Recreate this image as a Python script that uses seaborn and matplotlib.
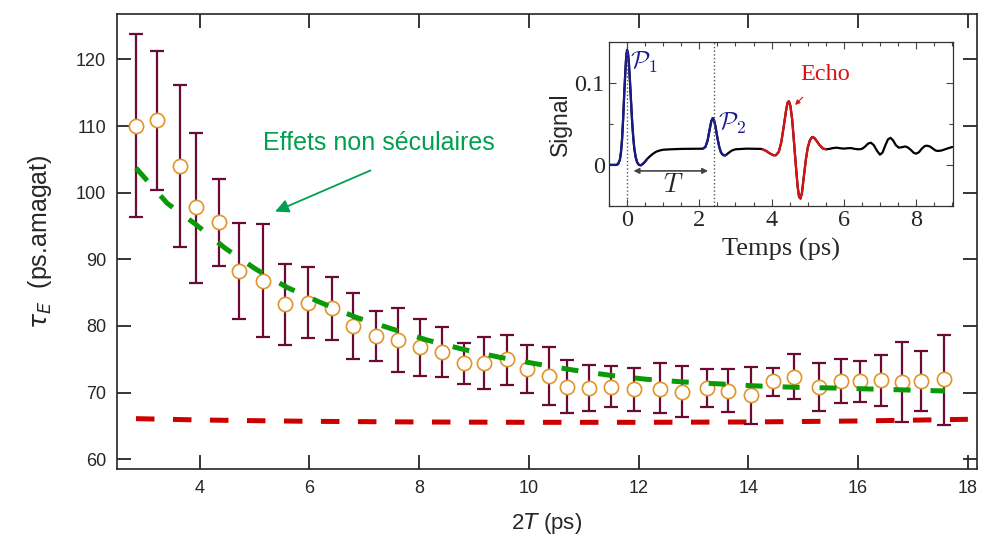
import numpy as np
import pandas as pd
import seaborn as sns
import matplotlib
matplotlib.use("Agg")
from matplotlib import pyplot as plt

# main data: echo decay time vs 2T
two_T = [2.84, 3.22, 3.64, 3.94, 4.36, 4.72, 5.16, 5.56, 5.97, 6.41,
         6.80, 7.21, 7.62, 8.02, 8.42, 8.82, 9.19, 9.60, 9.96, 10.37,
         10.69, 11.10, 11.50, 11.91, 12.38, 12.79, 13.25, 13.62, 14.04, 14.45,
         14.83, 15.28, 15.69, 16.04, 16.42, 16.80, 17.15, 17.57]
tau_E = [110.0, 110.9, 104.0, 97.8, 95.6, 88.2, 86.8, 83.3, 83.5, 82.7,
         80.0, 78.5, 77.9, 76.8, 76.1, 74.4, 74.4, 75.0, 73.6, 72.5,
         70.9, 70.7, 70.9, 70.5, 70.6, 70.1, 70.7, 70.3, 69.6, 71.7,
         72.4, 70.9, 71.8, 71.7, 71.9, 71.6, 71.7, 72.0]
tau_hi = [123.8, 121.3, 116.1, 109.0, 102.1, 95.5, 95.3, 89.3, 88.8, 87.3,
          84.9, 82.3, 82.7, 81.0, 79.9, 77.5, 78.3, 78.7, 77.2, 76.9,
          74.9, 74.2, 74.0, 73.7, 74.4, 74.0, 73.5, 73.6, 73.9, 73.7,
          75.8, 74.5, 75.1, 74.7, 75.6, 77.6, 76.2, 78.7]
tau_lo = [96.3, 100.4, 91.8, 86.5, 89.0, 81.0, 78.4, 77.2, 78.2, 77.9,
          75.1, 74.8, 73.1, 72.5, 72.3, 71.3, 70.5, 71.2, 70.0, 68.2,
          67.0, 67.2, 67.9, 67.3, 67.0, 66.4, 67.9, 67.1, 65.3, 69.5,
          69.0, 67.3, 68.4, 68.6, 68.0, 65.6, 67.2, 65.2]

# model curves
green_x = [2.84, 3.41, 3.92, 4.46, 5.01, 5.59, 6.21, 6.85, 7.49, 8.14, 8.80, 9.47,
           10.15, 10.80, 11.48, 12.15, 12.83, 13.50, 14.17, 14.87, 15.54, 16.21, 16.89, 17.58]
green_y = [103.7, 98.4, 95.3, 91.7, 88.6, 85.8, 83.5, 81.3, 79.6, 77.9, 76.5, 75.3,
           74.3, 73.4, 72.6, 72.0, 71.6, 71.3, 71.0, 70.8, 70.7, 70.55, 70.4, 70.25]
red_x = [2.84, 4, 6, 8, 10, 12, 14, 16, 18.0]
red_y = [66.1, 65.9, 65.7, 65.6, 65.55, 65.55, 65.6, 65.75, 66.0]

# inset: signal vs time
sig_t = [-0.5, -0.3, -0.25, -0.2, -0.17, -0.14, -0.11, -0.08, -0.05, -0.025, 0.0, 0.025, 0.05,
         0.08, 0.11, 0.14, 0.17, 0.2, 0.24, 0.28, 0.33, 0.38, 0.43, 0.5, 0.55,
         0.62, 0.7, 0.8, 0.9, 1.0, 1.2, 1.5, 2.0, 2.1,
         2.17, 2.23, 2.28, 2.33, 2.37, 2.41, 2.45, 2.5, 2.55, 2.6, 2.66, 2.71, 2.75,
         2.82, 2.9, 3.0, 3.3, 3.7,
         3.75, 3.85, 3.95, 4.05, 4.12, 4.2, 4.27, 4.34, 4.4, 4.44, 4.48, 4.52, 4.57, 4.62, 4.67,
         4.72, 4.76, 4.8, 4.84, 4.89, 4.95, 5.0, 5.06, 5.12, 5.18, 5.25, 5.33, 5.42, 5.5,
         5.6, 5.7, 5.8, 5.9, 6.0, 6.1, 6.2, 6.3, 6.4, 6.5, 6.58, 6.67, 6.75, 6.83, 6.92,
         7.0, 7.07, 7.15, 7.22, 7.29, 7.36, 7.44, 7.52, 7.6, 7.7, 7.78, 7.86, 7.94, 8.0,
         8.08, 8.16, 8.24, 8.3, 8.38, 8.46, 8.54, 8.6, 8.7, 8.8, 8.9, 9.0]
sig_v = [0.0, 0.0, 0.001, 0.006, 0.015, 0.03, 0.055, 0.085, 0.112, 0.131, 0.14, 0.136, 0.124,
         0.102, 0.077, 0.053, 0.034, 0.02, 0.009, 0.003, 0.0, -0.0005, 0.001, 0.004, 0.007,
         0.010, 0.013, 0.016, 0.0175, 0.0185, 0.019, 0.0195, 0.0197, 0.0198,
         0.022, 0.03, 0.042, 0.053, 0.057, 0.054, 0.046, 0.033, 0.022, 0.015, 0.012, 0.0115, 0.0125,
         0.015, 0.0175, 0.019, 0.0198, 0.0195,
         0.019, 0.017, 0.014, 0.0118, 0.0118, 0.016, 0.028, 0.048, 0.066, 0.0755, 0.0775, 0.072, 0.055, 0.028, 0.0,
         -0.026, -0.039, -0.041, -0.034, -0.015, 0.007, 0.021, 0.030, 0.034, 0.033, 0.029, 0.024, 0.020, 0.019,
         0.0195, 0.0205, 0.021, 0.0203, 0.0198, 0.0203, 0.0205, 0.0195, 0.019, 0.0195, 0.022, 0.026, 0.027, 0.024, 0.017,
         0.0125, 0.015, 0.024, 0.031, 0.033, 0.030, 0.024, 0.021, 0.0215, 0.0225, 0.021, 0.018, 0.0145, 0.0137,
         0.0155, 0.02, 0.023, 0.0234, 0.0225, 0.020, 0.0175, 0.017, 0.0175, 0.019, 0.0205, 0.0218]

sns.set_style("ticks")
plt.rcParams['font.family'] = ['Liberation Sans', 'DejaVu Sans']
serif = ["Liberation Serif", "DejaVu Serif"]

maroon = "#6b0a35"
orange = "#e0952a"
green = "#089a08"
red = "#cc0000"
annot_green = "#00a050"
navy = "#1a1a8c"
echo_red = "#dd1111"

fig = plt.figure(figsize=(9.81, 5.35), dpi=100)
ax = fig.add_axes([0.1196, 0.1234, 0.876, 0.8504])

df = pd.DataFrame({"x": two_T, "y": tau_E, "hi": tau_hi, "lo": tau_lo})

sns.lineplot(x=red_x, y=red_y, ax=ax, color=red, lw=3.6, zorder=1)
ax.lines[-1].set_dashes((3.7, 3.7))
ax.errorbar(df.x, df.y, yerr=[df.y - df.lo, df.hi - df.y], fmt='none', ecolor=maroon,
            elinewidth=1.6, capsize=5, capthick=1.6, zorder=2)
sns.scatterplot(data=df, x="x", y="y", ax=ax, s=105, facecolor="white",
                edgecolor=orange, linewidth=1.2, zorder=3)
sns.lineplot(x=green_x, y=green_y, ax=ax, color=green, lw=3.6, zorder=4)
ax.lines[-1].set_dashes((3.4, 4.0))

ax.set_xlim(2.5, 18.16)
ax.set_ylim(58.55, 126.8)
ax.set_xticks(np.arange(4, 19, 2))
ax.set_yticks(np.arange(60, 121, 10))
ax.tick_params(direction="in", length=10, width=1.3, top=True, right=True,
               labelsize=13, pad=8)
for s in ax.spines.values():
    s.set_linewidth(1.2)
ax.set_xlabel(r"2$T$ (ps)", fontsize=16, labelpad=10)
ax.set_ylabel(r"$\tau_E$  (ps.amagat)", fontsize=18, labelpad=16)

ax.annotate("", xy=(5.33, 97.0), xytext=(7.16, 103.5),
            arrowprops=dict(arrowstyle="-|>", color=annot_green, lw=1.3, mutation_scale=20))
ax.text(5.16, 107.4, "Effets non séculaires", color=annot_green, fontsize=18,
        ha="left", va="center")

# inset
ax_in = fig.add_axes([0.6208, 0.615, 0.351, 0.307])
ax_in.set_facecolor("white")
sig = pd.DataFrame({"t": sig_t, "v": sig_v})
sns.lineplot(data=sig, x="t", y="v", ax=ax_in, color="black", lw=1.6, sort=False, estimator=None)
for lo, hi, c in [(-0.5, 0.55, navy), (2.1, 2.75, navy), (3.75, 5.5, echo_red)]:
    seg = sig[(sig.t >= lo) & (sig.t <= hi)]
    sns.lineplot(data=seg, x="t", y="v", ax=ax_in, color=c, lw=1.6, sort=False, estimator=None)

ax_in.axvline(0, color="#555555", ls=":", lw=1)
ax_in.axvline(2.4, color="#555555", ls=":", lw=1)
ax_in.annotate("", xy=(0.1, -0.0073), xytext=(2.32, -0.0073),
               arrowprops=dict(arrowstyle="<|-|>", color="#444444", lw=1.2, mutation_scale=8))
ax_in.text(1.27, -0.025, r"$T$", fontsize=19, ha="center", va="center", math_fontfamily="cm")
ax_in.text(0.47, 0.125, r"$\mathcal{P}_1$", color=navy, fontsize=18, ha="center", va="center",
           math_fontfamily="cm")
ax_in.text(2.92, 0.05, r"$\mathcal{P}_2$", color=navy, fontsize=18, ha="center", va="center",
           math_fontfamily="cm")
ax_in.annotate("Echo", xy=(4.65, 0.073), xytext=(5.48, 0.11), color=echo_red,
               fontsize=17.5, family=serif, ha="center", va="center",
               arrowprops=dict(arrowstyle="-|>", color=echo_red, lw=0.8, mutation_scale=7,
                               shrinkA=9, shrinkB=0))

ax_in.set_xlim(-0.5, 9.03)
ax_in.set_ylim(-0.05, 0.15)
ax_in.set_xticks([0, 2, 4, 6, 8])
ax_in.set_xticks(np.arange(-0.5, 9.01, 0.5), minor=True)
ax_in.set_yticks([0, 0.1])
ax_in.set_yticklabels(["0", "0.1"])
ax_in.set_yticks([-0.05, 0.05, 0.15], minor=True)
ax_in.tick_params(which="both", direction="in", top=True, right=True, width=0.8, color="#444444")
ax_in.tick_params(which="major", length=5, labelsize=17.5, pad=3)
ax_in.tick_params(which="minor", length=3)
for lab in ax_in.get_xticklabels() + ax_in.get_yticklabels():
    lab.set_family(serif)
for s in ax_in.spines.values():
    s.set_linewidth(0.9)
    s.set_color("#333333")
ax_in.set_xlabel("Temps (ps)", fontsize=19, family=serif, labelpad=5)
ax_in.set_ylabel("Signal", fontsize=16.5, labelpad=2)

fig.savefig("out.png", dpi=100)
